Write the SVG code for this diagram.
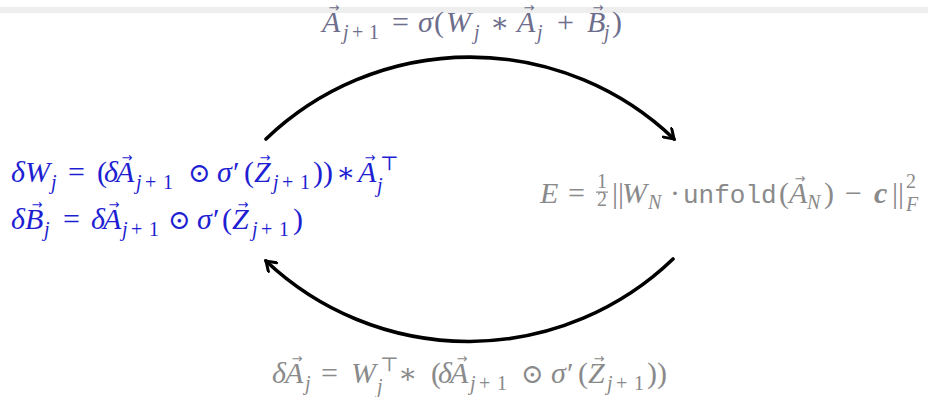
<svg xmlns="http://www.w3.org/2000/svg" width="928" height="397" viewBox="0 0 928 397">
<defs>
<style>
.m{font-family:"Liberation Serif","DejaVu Serif",serif;font-size:30px}
.i{font-style:italic}
.s{font-size:20px}
.o{font-size:27px}
.v{font-family:"DejaVu Sans","Liberation Serif",sans-serif;font-size:13px;text-anchor:middle}
.tt{font-family:"Liberation Mono",monospace;font-size:26px}
.top{fill:#6e6e8c}
.blue{fill:#1e1ed2}
.gray{fill:#8a8a8a}
.arc{fill:none;stroke:#000;stroke-width:3.6;stroke-linecap:round}
</style>
<marker id="ah" viewBox="0 0 14 14" refX="11" refY="7" markerWidth="14" markerHeight="14" markerUnits="userSpaceOnUse" orient="auto">
<path d="M2,1 L11,7 L2,13" fill="none" stroke="#000" stroke-width="3" stroke-linecap="round"/>
</marker>
</defs>
<rect x="0" y="7" width="928" height="6" fill="#eeeeee"/>
<g id="connectors">
<path class="arc" d="M266,139 A295,295 0 0 1 674,139" marker-end="url(#ah)"/>
<path class="arc" d="M673,259 A295,295 0 0 1 266,261" marker-end="url(#ah)"/>
</g>
<g id="forward">
<text class="m top"><tspan class="i" x="322" y="32">A</tspan><tspan class="s i" x="343" y="39">j</tspan><tspan class="s" x="352">+</tspan><tspan class="s" x="369">1</tspan><tspan x="392" y="32">=</tspan><tspan class="i" x="418">σ</tspan><tspan x="434">(</tspan><tspan class="i" x="446">W</tspan><tspan class="s i" x="474" y="39">j</tspan><tspan x="490" y="32" font-size="28">∗</tspan><tspan class="i" x="517">A</tspan><tspan class="s i" x="537" y="39">j</tspan><tspan x="557" y="32">+</tspan><tspan class="i" x="587">B</tspan><tspan class="s i" x="604" y="39">j</tspan><tspan x="612" y="32">)</tspan></text>
<text class="v top"><tspan x="334" y="12">→</tspan><tspan x="529" y="12">→</tspan><tspan x="598" y="12">→</tspan></text>
</g>
<g id="gradients">
<text class="m blue"><tspan class="i" x="11" y="182">δ</tspan><tspan class="i" x="25">W</tspan><tspan class="s i" x="51" y="189">j</tspan><tspan x="68" y="182">=</tspan><tspan x="97">(</tspan><tspan class="i" x="104">δ</tspan><tspan class="i" x="116">A</tspan><tspan class="s i" x="136" y="189">j</tspan><tspan class="s" x="145">+</tspan><tspan class="s" x="163">1</tspan><tspan class="o" x="188" y="182">⊙</tspan><tspan class="i" x="217">σ</tspan><tspan x="233">′</tspan><tspan x="244">(</tspan><tspan class="i" x="254">Z</tspan><tspan class="s i" x="273" y="189">j</tspan><tspan class="s" x="282">+</tspan><tspan class="s" x="300">1</tspan><tspan x="313" y="182">))</tspan><tspan x="336" font-size="28">∗</tspan><tspan class="i" x="358">A</tspan><tspan class="s" x="380" y="170">⊤</tspan><tspan class="s i" x="377" y="192">j</tspan></text>
<text class="v blue"><tspan x="127" y="162">→</tspan><tspan x="265" y="162">→</tspan><tspan x="370" y="162">→</tspan></text>
<text class="m blue"><tspan class="i" x="11" y="229">δ</tspan><tspan class="i" x="25">B</tspan><tspan class="s i" x="44" y="236">j</tspan><tspan x="63" y="229">=</tspan><tspan class="i" x="91">δ</tspan><tspan class="i" x="103">A</tspan><tspan class="s i" x="122" y="236">j</tspan><tspan class="s" x="131">+</tspan><tspan class="s" x="149">1</tspan><tspan class="o" x="168" y="229">⊙</tspan><tspan class="i" x="197">σ</tspan><tspan x="213">′</tspan><tspan x="222">(</tspan><tspan class="i" x="232">Z</tspan><tspan class="s i" x="252" y="236">j</tspan><tspan class="s" x="261">+</tspan><tspan class="s" x="279">1</tspan><tspan x="293" y="229">)</tspan></text>
<text class="v blue"><tspan x="37" y="209">→</tspan><tspan x="114" y="209">→</tspan><tspan x="243" y="209">→</tspan></text>
</g>
<g id="loss">
<text class="m gray"><tspan class="i" x="540" y="203">E</tspan><tspan x="568">=</tspan><tspan x="612">||</tspan><tspan class="i" x="622">W</tspan><tspan class="s i" x="648" y="209">N</tspan><tspan x="670" y="203">·</tspan><tspan class="tt" x="683">unfold</tspan><tspan x="779">(</tspan><tspan class="i" x="789">A</tspan><tspan class="s i" x="807" y="209">N</tspan><tspan x="824" y="203">)</tspan><tspan x="845">−</tspan><tspan class="i" font-weight="bold" x="874">c</tspan><tspan x="892">||</tspan><tspan class="s" x="906" y="188">2</tspan><tspan class="s i" x="906" y="211">F</tspan></text>
<text class="m gray s" text-anchor="middle"><tspan x="602" y="188">1</tspan><tspan x="602" y="206">2</tspan></text>
<rect x="596" y="191.5" width="12" height="1.2" fill="#8a8a8a"/>
<text class="v gray"><tspan x="800" y="183">→</tspan></text>
</g>
<g id="backward">
<text class="m gray"><tspan class="i" x="272" y="383">δ</tspan><tspan class="i" x="285">A</tspan><tspan class="s i" x="305" y="390">j</tspan><tspan x="321" y="383">=</tspan><tspan class="i" x="351">W</tspan><tspan class="s" x="380" y="371">⊤</tspan><tspan class="s i" x="377" y="393">j</tspan><tspan x="398" y="383" font-size="28">∗</tspan><tspan x="431">(</tspan><tspan class="i" x="438">δ</tspan><tspan class="i" x="450">A</tspan><tspan class="s i" x="470" y="390">j</tspan><tspan class="s" x="479">+</tspan><tspan class="s" x="497">1</tspan><tspan class="o" x="521" y="383">⊙</tspan><tspan class="i" x="551">σ</tspan><tspan x="567">′</tspan><tspan x="578">(</tspan><tspan class="i" x="588">Z</tspan><tspan class="s i" x="607" y="390">j</tspan><tspan class="s" x="616">+</tspan><tspan class="s" x="634">1</tspan><tspan x="647" y="383">))</tspan></text>
<text class="v gray"><tspan x="297" y="363">→</tspan><tspan x="462" y="363">→</tspan><tspan x="599" y="363">→</tspan></text>
</g>
</svg>
